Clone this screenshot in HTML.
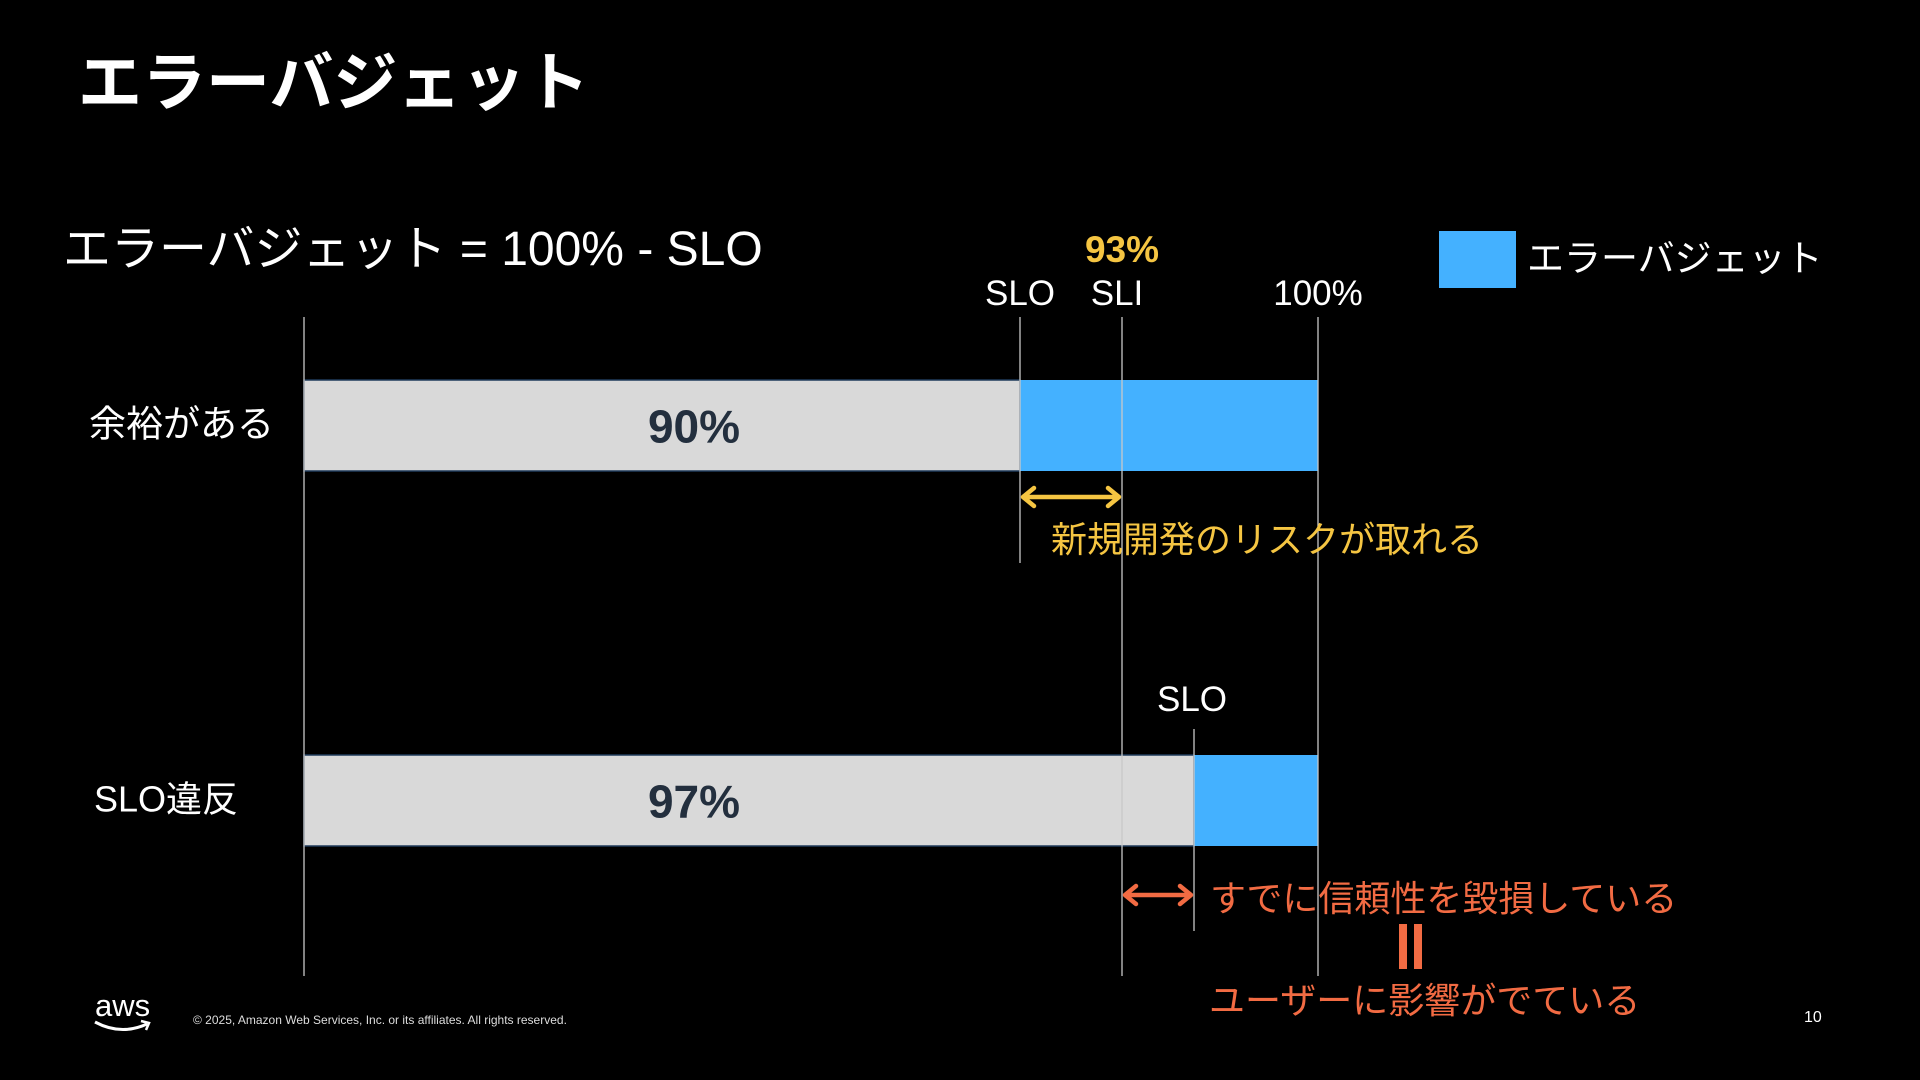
<!DOCTYPE html>
<html><head><meta charset="utf-8">
<style>
html,body{margin:0;padding:0;background:#000;}
body{width:1920px;height:1080px;overflow:hidden;position:relative;font-family:"Liberation Sans","Noto Sans CJK JP",sans-serif;color:#fff;}
.t{position:absolute;white-space:nowrap;line-height:1;}
</style></head>
<body>
<div class="t" style="left:78px;top:51px;font-size:64px;font-weight:bold;">エラーバジェット</div>
<div class="t" style="left:63px;top:226px;font-size:48px;">エラーバジェット = 100% - SLO</div>
<div style="position:absolute;left:1439px;top:231px;width:77px;height:57px;background:#44b1ff;"></div>
<div class="t" style="left:1527px;top:240px;font-size:37px;">エラーバジェット</div>

<svg id="chart" width="1920" height="1080" style="position:absolute;left:0;top:0;" font-family="Liberation Sans, Noto Sans CJK JP, sans-serif"></svg>

<div class="t" style="left:193px;top:1014px;font-size:12px;color:#ddd;">© 2025, Amazon Web Services, Inc. or its affiliates. All rights reserved.</div>
<div style="position:absolute;left:93px;top:990px;">
<div class="t" style="position:relative;font-size:31px;color:#fff;left:2px;">aws</div>
<svg width="60" height="18" style="position:absolute;left:0;top:28px;"><path d="M2 4 Q28 18 54 6" stroke="#fff" stroke-width="3" fill="none"/><path d="M48 3 L56 5 L53 12" stroke="#fff" stroke-width="2.5" fill="none"/></svg>
</div>
<div class="t" style="left:1804px;top:1010px;font-size:16px;">10</div>

<script>
const rowLabels = ['余裕がある', 'SLO違反'];
const sloValues = [90, 97];
const sliValue = 93;
const maxValue = 100;
const barLabels = ['90%', '97%'];
// axis (diagram is schematic, so piecewise scale)
const axisDomain = [0, 90, 93, 97, 100];
const axisRange = [304, 1020, 1122, 1194, 1318];
function xScale(v){
  for(let i=0;i<axisDomain.length-1;i++){
    if(v<=axisDomain[i+1]){const t=(v-axisDomain[i])/(axisDomain[i+1]-axisDomain[i]);return axisRange[i]+t*(axisRange[i+1]-axisRange[i]);}
  }
  return axisRange[axisRange.length-1];
}
const rowY = [380, 755];
const barH = 91;
const svg = document.getElementById('chart');
const NS='http://www.w3.org/2000/svg';
function mk(tag, attrs, txt){const e=document.createElementNS(NS,tag);for(const k in attrs)e.setAttribute(k,attrs[k]);if(txt!==undefined)e.textContent=txt;svg.appendChild(e);return e;}
const x0=xScale(0), x100=xScale(maxValue), xSli=xScale(sliValue), xSlo1=xScale(sloValues[0]), xSlo2=xScale(sloValues[1]);
const rowFont=[37,36];
rowLabels.forEach((lab,i)=>{
  const xs=xScale(sloValues[i]);
  let r=mk('rect',{x:x0,y:rowY[i],width:xs-x0,height:barH,fill:'#d9d9d9',stroke:'#1f3a5a','stroke-width':1.5});
  
  
  r=mk('rect',{x:xs,y:rowY[i],width:x100-xs,height:barH,fill:'#44b1ff'});
  
  
  let t=mk('text',{x:694,y:rowY[i]+barH/2+17,'text-anchor':'middle','font-size':46,'font-weight':'bold',fill:'#232f3e'},barLabels[i]);
  
  
  t=mk('text',{x:i==0?89:94,y:rowY[i]+barH/2+11,'font-size':rowFont[i],fill:'#fff'},lab);
  
  
});
function vl(x,y1,y2,name){const l=mk('line',{x1:x,x2:x,y1:y1,y2:y2,stroke:'#c8c8c8','stroke-width':1.3});}
vl(x0,317,976,'zero-line');
vl(xSlo1,317,563,'slo-line-top');
vl(xSli,317,976,'sli-line');
vl(x100,317,976,'max-line');
vl(xSlo2,729,931,'slo-line-bottom');
function tx(x,y,s,txt,name,extra){const t=mk('text',Object.assign({x:x,y:y,'text-anchor':'middle','font-size':s,fill:'#fff'},extra||{}),txt);}
tx(xSlo1,305,35,'SLO','slo-label-top');
tx(xSli-5,305,35,'SLI','sli-label');
tx(x100,305,35,'100%','max-label');
tx(xSli,262,37,sliValue+'%','sli-value',{fill:'#f5c542','font-weight':'bold'});
tx(xSlo2-2,711,35,'SLO','slo-label-bottom');
function arrow(xa,xb,y,col,name){
  const g=document.createElementNS(NS,'g');svg.appendChild(g);
  
  
  const p=document.createElementNS(NS,'path');
  p.setAttribute('d',`M${xa+3} ${y} L${xb-3} ${y} M${xa+14} ${y-9} L${xa+3} ${y} L${xa+14} ${y+9} M${xb-14} ${y-9} L${xb-3} ${y} L${xb-14} ${y+9}`);
  p.setAttribute('stroke',col);p.setAttribute('stroke-width',4.5);p.setAttribute('fill','none');p.setAttribute('stroke-linecap','round');p.setAttribute('stroke-linejoin','round');
  g.appendChild(p);
}
arrow(xSlo1,xSli,497,'#f5c542','risk-arrow');
arrow(xSli,xSlo2,895,'#f26b43','violation-arrow');
tx(1051,552,36,'新規開発のリスクが取れる','risk-text',{'text-anchor':'start',fill:'#f5c542'});
tx(1210,911,36,'すでに信頼性を毀損している','violation-text',{'text-anchor':'start',fill:'#f26b43'});
tx(1209,1013,36,'ユーザーに影響がでている','user-impact-text',{'text-anchor':'start',fill:'#f26b43'});
let r=mk('rect',{x:1399,y:924,width:8,height:45,fill:'#f26b43'});
r=mk('rect',{x:1414,y:924,width:8,height:45,fill:'#f26b43'});
</script>
</body></html>
